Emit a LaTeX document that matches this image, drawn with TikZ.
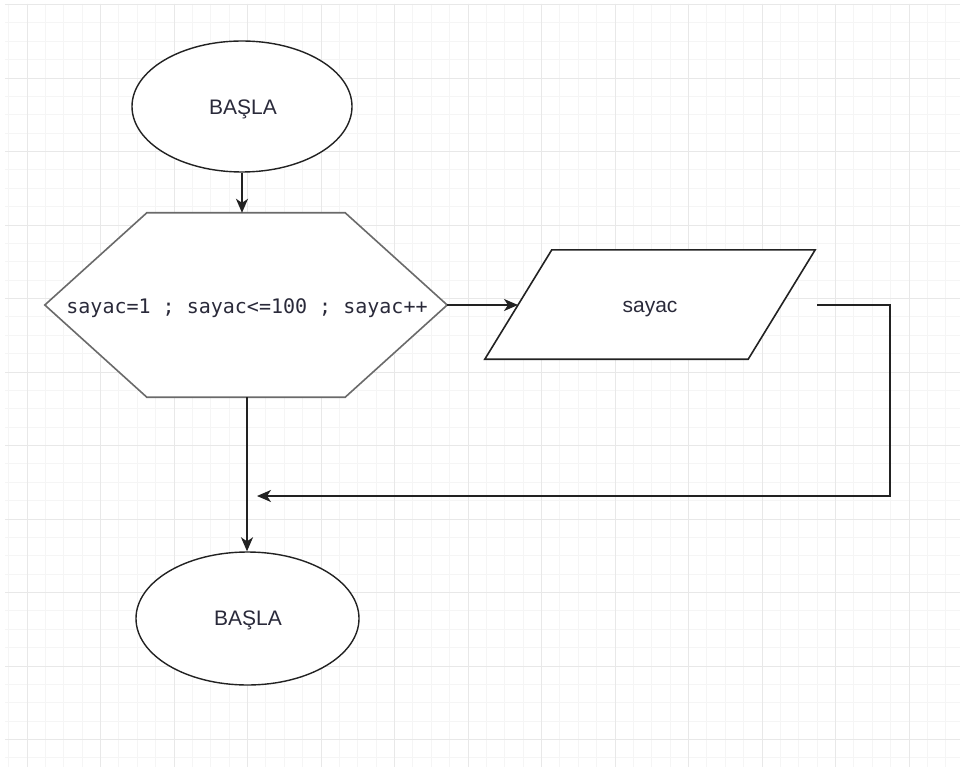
\documentclass[tikz,border=0pt]{standalone}
\usepackage{fontspec}
\setmainfont{Liberation Sans}
\setmonofont{DejaVu Sans Mono}
\usetikzlibrary{shapes.geometric,arrows.meta}
\definecolor{gridminor}{HTML}{F5F5F5}
\definecolor{gridmajor}{HTML}{E8E8E8}
\definecolor{strokec}{HTML}{222222}
\definecolor{hexc}{HTML}{6A6A6A}
\definecolor{txtc}{HTML}{2A2A3A}
\begin{document}
\begin{tikzpicture}[x=1pt,y=-1pt,
  term/.style={ellipse,draw=strokec,line width=1.4pt,fill=white,inner sep=0pt,
    font=\fontsize{21}{24}\selectfont,text=txtc},
  boxref/.style={rectangle,inner sep=0pt,draw=none},
  conn/.style={draw=strokec,line width=1.7pt,-{Stealth[length=14pt,width=12pt,inset=4pt]}},
  wire/.style={draw=strokec,line width=1.6pt}]
\useasboundingbox (0,0) rectangle (960,767);
\fill[white] (0,0) rectangle (960,767);
% grid
\foreach \i in {0,...,52}{
  \pgfmathsetmacro{\xx}{8.625+18.375*\i}
  \draw[gridminor,line width=0.8pt] (\xx,4) -- (\xx,767);
}
\foreach \i in {0,...,41}{
  \pgfmathsetmacro{\yy}{4.5+18.375*\i}
  \draw[gridminor,line width=0.8pt] (5,\yy) -- (960,\yy);
}
\foreach \i in {0,...,12}{
  \pgfmathsetmacro{\xx}{27+73.5*\i}
  \draw[gridmajor,line width=0.9pt] (\xx,4) -- (\xx,767);
}
\foreach \i in {0,...,10}{
  \pgfmathsetmacro{\yy}{4.5+73.5*\i}
  \draw[gridmajor,line width=0.9pt] (5,\yy) -- (960,\yy);
}
% start ellipse
\node[term,minimum width=220pt,minimum height=131pt] (start) at (242,106.5) {};
\node[font=\fontsize{21}{24}\selectfont,text=txtc] (starttxt) at (243,109) {BAŞLA};
% hexagon (loop)
\node[boxref,minimum width=402pt,minimum height=184pt] (hex) at (246,305) {};
\draw[hexc,line width=1.6pt,fill=white]
  (hex.west) -- ([xshift=102pt]hex.north west) -- ([xshift=-102pt]hex.north east)
  -- (hex.east) -- ([xshift=-102pt]hex.south east) -- ([xshift=102pt]hex.south west) -- cycle;
\node[font=\ttfamily\fontsize{20}{24}\selectfont,text=txtc] (hextxt) at (247,308) {sayac=1 ; sayac<=100 ; sayac++};
% parallelogram (output)
\node[boxref,minimum width=330pt,minimum height=109pt] (io) at (650,304.5) {};
\draw[strokec,line width=1.6pt,fill=white]
  ([xshift=67pt]io.north west) -- (io.north east) -- ([xshift=-67pt]io.south east)
  -- (io.south west) -- cycle;
\node[font=\fontsize{21}{24}\selectfont,text=txtc] (iotxt) at (650,309) {sayac};
\coordinate (ioin) at (518,305);
% stop ellipse
\node[term,minimum width=223pt,minimum height=133pt] (stop) at (247.5,618.5) {};
\node[font=\fontsize{21}{24}\selectfont,text=txtc] (stoptxt) at (248,620) {BAŞLA};
% connectors
\draw[conn] (start.south) -- (start.south |- hex.north);
\draw[conn] (hex.east) -- (ioin);
\coordinate (loopstart) at (817,305);
\coordinate (loopcorner1) at (890,305);
\coordinate (loopcorner2) at (890,496);
\coordinate (loopend) at (257,496);
\draw[conn] (loopstart) -- (loopcorner1) -- (loopcorner2) -- (loopend);
\draw[conn] ([xshift=1pt]hex.south) -- ([xshift=1pt]hex.south |- stop.north);
\end{tikzpicture}
\end{document}
